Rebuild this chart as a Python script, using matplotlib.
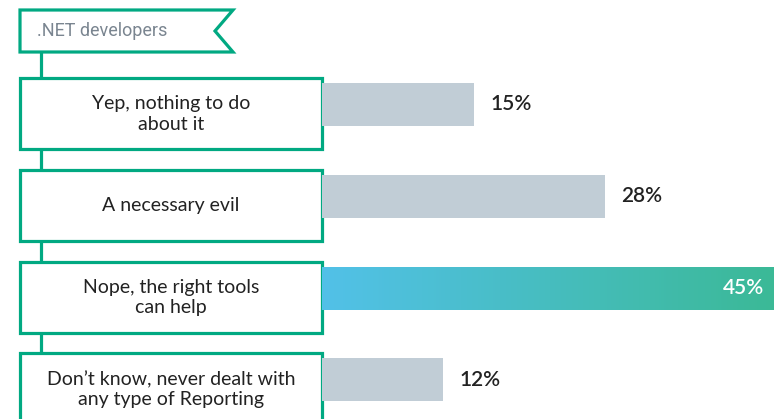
import numpy as np
import matplotlib.pyplot as plt
from matplotlib.patches import Polygon, Rectangle
from matplotlib.colors import LinearSegmentedColormap

plt.rcParams['font.family'] = ['Lato', 'DejaVu Sans']

# Data
HEADER = '.NET developers'
categories = ['Yep, nothing to do\nabout it',
              'A necessary evil',
              'Nope, the right tools\ncan help',
              'Don\u2019t know, never dealt with\nany type of Reporting']
values = [15, 28, 45, 12]
highlight = 2

GREEN = '#01A982'
GREY_BAR = '#C1CDD6'
W, H = 774, 419


def main():
    fig = plt.figure(figsize=(W / 100, H / 100), dpi=100)

    # overlay axes in pixel units for the boxes
    deco = fig.add_axes([0, 0, 1, 1])
    deco.set_xlim(0, W)
    deco.set_ylim(H, 0)
    deco.axis('off')

    # bar axes: starts at the right edge of the boxes
    x0 = 322
    step = 91.8
    c0 = 104.5
    xmax = (W - x0) / 10.12
    bar = fig.add_axes([x0 / W, 0, 1 - x0 / W, 1])
    bar.axis('off')

    ypos = np.arange(len(values))
    colors = [GREY_BAR] * len(values)
    rects = bar.barh(ypos, values, height=0.47, color=colors, zorder=1)

    # gradient fill for the highlighted bar
    hl = rects[highlight]
    hl.set_facecolor('none')
    cmap = LinearSegmentedColormap.from_list('g', ['#52C1E8', '#3BB996'])
    grad = np.linspace(0, 1, 256).reshape(1, -1)
    im = bar.imshow(grad, cmap=cmap, aspect='auto', zorder=1,
                    extent=[0, values[highlight],
                            highlight + 0.235, highlight - 0.235])
    im.set_clip_path(hl)
    bar.set_xlim(0, xmax)
    bar.set_ylim((H - c0) / step, -c0 / step)

    for i, v in enumerate(values):
        if i == highlight:
            bar.text(xmax - 1.0, i, f'{v}%', color='white', fontsize=15,
                     fontweight='semibold', ha='right', va='center')
        else:
            bar.text(v + 1.6, i, f'{v}%', color='#222222', fontsize=15,
                     fontweight='semibold', ha='left', va='center')

    # header tag
    tag = Polygon([(20, 10), (233, 10), (215, 31), (233, 52), (20, 52)],
                  closed=True, facecolor='white', edgecolor=GREEN, lw=2.3,
                  joinstyle='miter', zorder=3)
    deco.add_patch(tag)
    deco.text(37, 31, HEADER, color='#7A8590', fontsize=13,
              family=['Roboto', 'DejaVu Sans'],
              ha='left', va='center', zorder=4)

    # connector line
    deco.plot([41, 41], [52, H + 5], color=GREEN, lw=2.3, zorder=2)

    # category boxes
    for i, cat in enumerate(categories):
        top = 78 + i * step
        box = Rectangle((20, top), 302, 71, facecolor='white',
                        edgecolor=GREEN, lw=2.3, zorder=3)
        deco.add_patch(box)
        deco.text(171, top + 36, cat, color='#222222', fontsize=14,
                  ha='center', va='center', linespacing=1.25, zorder=4)

    fig.savefig('out.png', dpi=100)


if __name__ == '__main__':
    main()
